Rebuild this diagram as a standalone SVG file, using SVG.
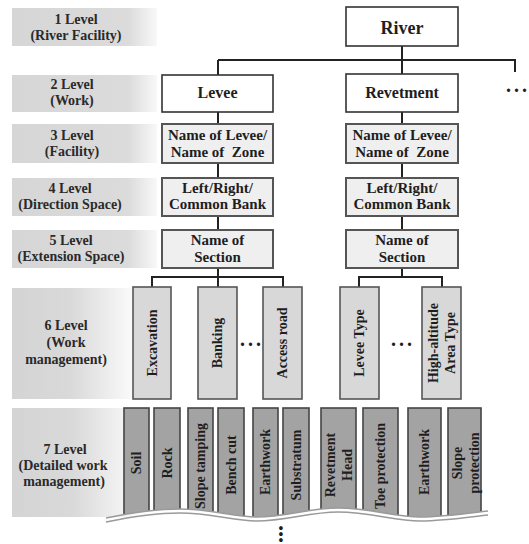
<svg xmlns="http://www.w3.org/2000/svg" width="529" height="544" viewBox="0 0 529 544">
  <defs>
    <linearGradient id="lvlGrad" x1="0" y1="0" x2="1" y2="0">
      <stop offset="0" stop-color="#d6d6d6"/>
      <stop offset="0.8" stop-color="#dbdbdb"/>
      <stop offset="1" stop-color="#f8f8f8"/>
    </linearGradient>
    <linearGradient id="lvlGradWide" x1="0" y1="0" x2="1" y2="0">
      <stop offset="0" stop-color="#d4d4d4"/>
      <stop offset="0.45" stop-color="#d9d9d9"/>
      <stop offset="1" stop-color="#ffffff"/>
    </linearGradient>
    <clipPath id="tear">
      <path d="M100,400 L100,518 L106,518 C130,513 155,509 180,509 C210,509 235,517 257,517 C285,517 310,508 338,508 C370,508 395,517 420,517 C445,517 470,513 488,511 L495,511 L495,400 Z"/>
    </clipPath>
    <style>
      text { font-family: "Liberation Serif", "Times New Roman", serif; font-weight: bold; fill: #1e1e1e; text-anchor: middle; }
      .lvl { fill: url(#lvlGrad); }
      .lvlw { fill: url(#lvlGradWide); }
      .lt { font-size: 14px; fill: #2a2a2a; }
      .top { fill: #ffffff; stroke: #333; stroke-width: 1.6; }
      .mid { fill: #efefef; stroke: #555; stroke-width: 2; }
      .work { fill: #d8d8d8; stroke: #555; stroke-width: 1.6; }
      .det { fill: #a3a3a3; stroke: #444; stroke-width: 1.6; }
      .t15 { font-size: 15px; }
      .t14 { font-size: 14px; }
      .dots { font-size: 20px; letter-spacing: 3px; }
      .vdots { font-size: 24px; }
      .wire { fill: none; stroke: #222; stroke-width: 2; }
      .wave { fill: none; stroke: #9a9a9a; stroke-width: 1.6; }
    </style>
  </defs>

  <!-- level labels -->
  <g id="level-1">
    <rect class="lvl" x="12" y="8" width="145" height="38"/>
    <text class="lt" x="76" y="24">1 Level</text>
    <text class="lt" x="76" y="40">(River Facility)</text>
  </g>
  <g id="level-2">
    <rect class="lvl" x="12" y="75" width="145" height="37"/>
    <text class="lt" x="72" y="89">2 Level</text>
    <text class="lt" x="72" y="105">(Work)</text>
  </g>
  <g id="level-3">
    <rect class="lvl" x="12" y="124" width="145" height="39"/>
    <text class="lt" x="72" y="140">3 Level</text>
    <text class="lt" x="72" y="156">(Facility)</text>
  </g>
  <g id="level-4">
    <rect class="lvl" x="12" y="178" width="145" height="38"/>
    <text class="lt" x="70" y="193">4 Level</text>
    <text class="lt" x="70" y="209">(Direction Space)</text>
  </g>
  <g id="level-5">
    <rect class="lvl" x="12" y="230" width="145" height="38"/>
    <text class="lt" x="71" y="245">5 Level</text>
    <text class="lt" x="71" y="261">(Extension Space)</text>
  </g>
  <g id="level-6">
    <rect class="lvlw" x="12" y="288" width="130" height="111"/>
    <text class="lt" x="66" y="330">6 Level</text>
    <text class="lt" x="66" y="347">(Work</text>
    <text class="lt" x="66" y="364">management)</text>
  </g>
  <g id="level-7">
    <rect class="lvlw" x="12" y="408" width="135" height="109"/>
    <text class="lt" x="65" y="454">7 Level</text>
    <text class="lt" x="63" y="470">(Detailed work</text>
    <text class="lt" x="64" y="486">management)</text>
  </g>

  <!-- connectors -->
  <g id="connectors">
    <path class="wire" d="M402,46 V60 M218,60 H515 V72 M218,60 V75 M402,60 V74"/>
    <path class="wire" d="M218,112 V124 M218,163 V178 M218,216 V230 M218,268 V287"/>
    <path class="wire" d="M402,112 V124 M402,163 V178 M402,216 V230 M402,268 V277"/>
    <path class="wire" d="M152,287 V277 H283 V287"/>
    <path class="wire" d="M359,287 V277 H442 V287"/>
  </g>

  <!-- level 1 and 2 -->
  <g id="river">
    <rect class="top" x="346" y="7" width="112" height="39"/>
    <text x="402" y="34" style="font-size:18px">River</text>
  </g>
  <g id="levee">
    <rect class="top" x="162" y="75" width="111" height="37"/>
    <text x="217.5" y="98" style="font-size:16px">Levee</text>
  </g>
  <g id="revetment">
    <rect class="top" x="346" y="74" width="112" height="38"/>
    <text x="402" y="98" style="font-size:16px">Revetment</text>
  </g>
  <g id="more-works">
    <text class="dots" x="518" y="92">...</text>
  </g>

  <!-- levels 3 to 5 -->
  <g id="levee-facility">
    <rect class="mid" x="162" y="124" width="111" height="39"/>
    <text class="t15" x="217.5" y="140">Name of Levee/</text>
    <text class="t15" x="217.5" y="157" xml:space="preserve">Name of  Zone</text>
  </g>
  <g id="revetment-facility">
    <rect class="mid" x="346" y="124" width="112" height="39"/>
    <text class="t15" x="402" y="140">Name of Levee/</text>
    <text class="t15" x="402" y="157" xml:space="preserve">Name of  Zone</text>
  </g>
  <g id="levee-bank">
    <rect class="mid" x="162" y="178" width="111" height="38"/>
    <text class="t15" x="217.5" y="193">Left/Right/</text>
    <text class="t15" x="217.5" y="209">Common Bank</text>
  </g>
  <g id="revetment-bank">
    <rect class="mid" x="346" y="178" width="112" height="38"/>
    <text class="t15" x="402" y="193">Left/Right/</text>
    <text class="t15" x="402" y="209">Common Bank</text>
  </g>
  <g id="levee-section">
    <rect class="mid" x="162" y="230" width="111" height="38"/>
    <text class="t15" x="217.5" y="245">Name of</text>
    <text class="t15" x="217.5" y="262">Section</text>
  </g>
  <g id="revetment-section">
    <rect class="mid" x="346" y="230" width="112" height="38"/>
    <text class="t15" x="402" y="245">Name of</text>
    <text class="t15" x="402" y="262">Section</text>
  </g>

  <!-- level 6 -->
  <g id="excavation">
    <rect class="work" x="133" y="287" width="38" height="112"/>
    <text class="t14" transform="translate(156.5,343) rotate(-90)">Excavation</text>
  </g>
  <g id="banking">
    <rect class="work" x="198" y="287" width="39" height="112"/>
    <text class="t14" transform="translate(222,343) rotate(-90)">Banking</text>
  </g>
  <g id="levee-work-more">
    <text class="dots" x="252" y="346">...</text>
  </g>
  <g id="access-road">
    <rect class="work" x="263" y="287" width="39" height="112"/>
    <text class="t14" transform="translate(287,343) rotate(-90)">Access road</text>
  </g>
  <g id="levee-type">
    <rect class="work" x="340" y="287" width="39" height="112"/>
    <text class="t14" transform="translate(364,343) rotate(-90)">Levee Type</text>
  </g>
  <g id="revetment-work-more">
    <text class="dots" x="403" y="346">...</text>
  </g>
  <g id="high-altitude">
    <rect class="work" x="422" y="287" width="39" height="112"/>
    <text class="t14" transform="translate(437.5,343) rotate(-90)">High-altitude</text>
    <text class="t14" transform="translate(454.5,343) rotate(-90)">Area Type</text>
  </g>

  <!-- level 7, torn off at the bottom -->
  <g clip-path="url(#tear)">
    <g id="soil">
      <rect class="det" x="124" y="408" width="25" height="125"/>
      <text class="t14" transform="translate(141,463) rotate(-90)">Soil</text>
    </g>
    <g id="rock">
      <rect class="det" x="154" y="408" width="26" height="125"/>
      <text class="t14" transform="translate(171.5,463) rotate(-90)">Rock</text>
    </g>
    <g id="slope-tamping">
      <rect class="det" x="188" y="408" width="25" height="125"/>
      <text class="t14" transform="translate(205,466) rotate(-90)">Slope tamping</text>
    </g>
    <g id="bench-cut">
      <rect class="det" x="218" y="408" width="26" height="125"/>
      <text class="t14" transform="translate(235.5,465) rotate(-90)">Bench cut</text>
    </g>
    <g id="earthwork-levee">
      <rect class="det" x="253" y="408" width="25" height="125"/>
      <text class="t14" transform="translate(270,462) rotate(-90)">Earthwork</text>
    </g>
    <g id="substratum">
      <rect class="det" x="283" y="408" width="26" height="125"/>
      <text class="t14" transform="translate(300.5,465) rotate(-90)">Substratum</text>
    </g>
    <g id="revetment-head">
      <rect class="det" x="321" y="408" width="35" height="125"/>
      <text class="t14" transform="translate(334.5,465) rotate(-90)">Revetment</text>
      <text class="t14" transform="translate(351.5,465) rotate(-90)">Head</text>
    </g>
    <g id="toe-protection">
      <rect class="det" x="363" y="408" width="35" height="125"/>
      <text class="t14" transform="translate(385,466) rotate(-90)">Toe protection</text>
    </g>
    <g id="earthwork-revetment">
      <rect class="det" x="408" y="408" width="33" height="125"/>
      <text class="t14" transform="translate(429,462) rotate(-90)">Earthwork</text>
    </g>
    <g id="slope-protection">
      <rect class="det" x="448" y="408" width="33" height="125"/>
      <text class="t14" transform="translate(461.5,463) rotate(-90)">Slope</text>
      <text class="t14" transform="translate(479,463) rotate(-90)">protection</text>
    </g>
  </g>

  <!-- break line -->
  <g id="break">
    <path class="wave" d="M106,518 C130,513 155,509 180,509 C210,509 235,517 257,517 C285,517 310,508 338,508 C370,508 395,517 420,517 C445,517 470,513 488,511"/>
    <path class="wave" d="M106,522 C130,517 155,513 180,513 C210,513 235,521 257,521 C285,521 310,512 338,512 C370,512 395,521 420,521 C445,521 470,517 488,515"/>
  </g>
  <g id="more-details">
    <text class="vdots" transform="translate(279,534) rotate(90)">...</text>
  </g>
</svg>
